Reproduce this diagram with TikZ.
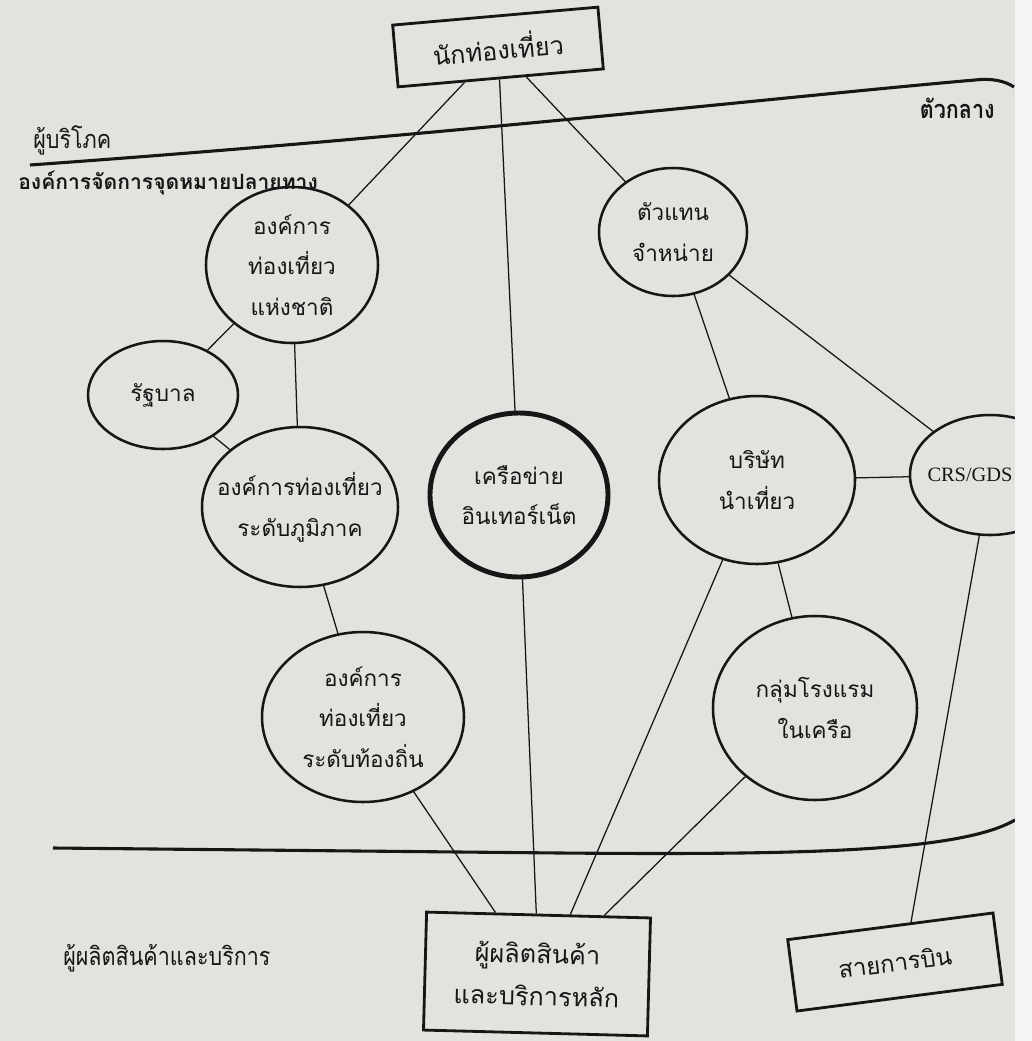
\documentclass[tikz,border=0pt]{standalone}
\usepackage{fontspec}
\newfontfamily\thaifont[Script=Thai]{Loma}
\newfontfamily\thaicond[Script=Thai,FakeStretch=0.85]{Loma}
\newfontfamily\latinserif{Liberation Serif}
\usetikzlibrary{shapes.geometric,calc}
\definecolor{paper}{RGB}{226,226,222}
\definecolor{ink}{RGB}{22,22,22}
\definecolor{stripcol}{RGB}{243,245,247}
\def\pxu{0.025cm}
\newcommand\thaitext{\thaifont\fontsize{16}{29}\selectfont}
\newcommand\thaibox{\thaifont\fontsize{18}{30}\selectfont}
\newcommand\thaiside{\thaicond\fontsize{18}{22}\selectfont}
\tikzset{
  conn/.style={draw=ink, line width=0.9pt},
  oval/.style={ellipse, draw=ink, line width=1.8pt, inner sep=0pt, outer sep=0pt},
  ovtxt/.style={font=\thaitext, align=center, text=ink, inner sep=0pt},
  boxnode/.style={draw=ink, line width=2pt, inner sep=0pt, font=\thaibox, align=center, text=ink},
  divline/.style={draw=ink, line width=2.2pt},
  sidelbl/.style={font=\thaiside, text=ink, inner sep=0pt}
}
\begin{document}
\begin{tikzpicture}[x=0.025cm,y=-0.025cm]
\useasboundingbox (0,0) rectangle (1032,1041);
\fill[paper] (0,0) rectangle (1032,1041);
\begin{scope}
\clip (0,0) rectangle (1015,1041);
% dividing lines
\draw[divline] (30,165) .. controls (450,135) and (800,95) .. (975,80) .. controls (992,78) and (1005,81) .. (1014,87);
\draw[divline] (53,848) -- (560,853) .. controls (800,855) and (960,852) .. (1015,820);
% side labels
\node[sidelbl, anchor=west] (consumer) at (33,140) {ผู้บริโภค};
\node[sidelbl, anchor=east, font=\thaicond\bfseries\fontsize{18}{22}\selectfont] (middle) at (995,108) {ตัวกลาง};
\node[sidelbl, anchor=west, font=\thaifont\bfseries\fontsize{15}{20}\selectfont] (dmo) at (18,183) {องค์การจัดการจุดหมายปลายทาง};
\node[sidelbl, anchor=west] (producers) at (63,958) {ผู้ผลิตสินค้าและบริการ};
% boxes
\node[boxnode, rotate=5, minimum width=206*\pxu, minimum height=62*\pxu] (tourist) at (498,47) {นักท่องเที่ยว};
\node[boxnode, rotate=-1.5, minimum width=224*\pxu, minimum height=118*\pxu] (prod) at (537,974) {ผู้ผลิตสินค้า\\และบริการหลัก};
\node[boxnode, rotate=7.4, minimum width=207*\pxu, minimum height=72*\pxu, font=\thaifont\fontsize{17}{20}\selectfont] (air) at (895,962) {สายการบิน};
% ellipses
\node[oval, minimum width=172*\pxu, minimum height=156*\pxu, label={[ovtxt]center:{องค์การ\\ท่องเที่ยว\\แห่งชาติ}}] (nat) at (292,265) {};
\node[oval, minimum width=150*\pxu, minimum height=108*\pxu, label={[ovtxt]center:{รัฐบาล}}] (gov) at (163,395) {};
\node[oval, minimum width=196*\pxu, minimum height=160*\pxu, label={[ovtxt]center:{องค์การท่องเที่ยว\\ระดับภูมิภาค}}] (reg) at (300,507) {};
\node[oval, line width=3.5pt, minimum width=178*\pxu, minimum height=164*\pxu, label={[ovtxt]center:{เครือข่าย\\อินเทอร์เน็ต}}] (inet) at (519,495) {};
\node[oval, minimum width=148*\pxu, minimum height=128*\pxu, label={[ovtxt]center:{ตัวแทน\\จำหน่าย}}] (agent) at (673,232) {};
\node[oval, minimum width=196*\pxu, minimum height=168*\pxu, label={[ovtxt]center:{บริษัท\\นำเที่ยว}}] (tour) at (757,480) {};
\node[oval, minimum width=160*\pxu, minimum height=120*\pxu, label={[ovtxt, font=\latinserif\fontsize{14.5}{18}\selectfont, xshift=-20*\pxu]center:{CRS/GDS}}] (crs) at (990,475) {};
\node[oval, minimum width=202*\pxu, minimum height=170*\pxu, label={[ovtxt]center:{องค์การ\\ท่องเที่ยว\\ระดับท้องถิ่น}}] (local) at (363,717) {};
\node[oval, minimum width=204*\pxu, minimum height=184*\pxu, label={[ovtxt]center:{กลุ่มโรงแรม\\ในเครือ}}] (hotel) at (815,708) {};
% connectors
\draw[conn] (tourist) -- (nat);
\draw[conn] (tourist) -- (inet);
\draw[conn] (tourist) -- (agent);
\draw[conn] (nat) -- (gov);
\draw[conn] (nat) -- (reg);
\draw[conn] (gov) -- (reg);
\draw[conn] (reg) -- (local);
\draw[conn] (agent) -- (tour);
\draw[conn] (agent) -- (crs);
\draw[conn] (tour) -- (crs);
\draw[conn] (tour) -- (hotel);
\draw[conn] (local) -- ($(prod.north west)!0.31!(prod.north east)$);
\draw[conn] (inet) -- ($(prod.north west)!0.49!(prod.north east)$);
\draw[conn] (tour) -- ($(prod.north west)!0.64!(prod.north east)$);
\draw[conn] (hotel) -- ($(prod.north west)!0.79!(prod.north east)$);
\draw[conn] (crs) -- ($(air.north west)!0.6!(air.north east)$);
\end{scope}
\fill[stripcol] (1015,0) rectangle (1032,1041);
\end{tikzpicture}
\end{document}
